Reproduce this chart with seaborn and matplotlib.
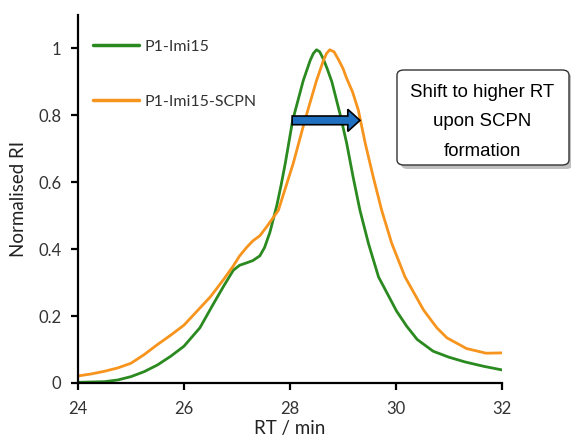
import numpy as np
import pandas as pd
import matplotlib
matplotlib.use("Agg")
import matplotlib.pyplot as plt
import seaborn as sns
from matplotlib.patches import FancyArrow, FancyBboxPatch

# ---- data ----
rt_green = [24.0, 24.5, 24.75, 25.0, 25.25, 25.5, 25.75, 26.0, 26.3, 26.56, 26.75,
            26.93, 27.05, 27.18, 27.3, 27.43, 27.52, 27.62, 27.75, 27.83, 27.91,
            28.05, 28.25, 28.38, 28.44, 28.5, 28.56, 28.63, 28.7, 28.79, 28.87,
            28.95, 29.07, 29.19, 29.32, 29.48, 29.67, 30.01, 30.2, 30.4, 30.7,
            31.0, 31.3, 31.65, 32.0]
ri_green = [0.002, 0.004, 0.009, 0.019, 0.034, 0.054, 0.08, 0.11, 0.165, 0.238, 0.29,
            0.337, 0.352, 0.359, 0.366, 0.38, 0.405, 0.45, 0.53, 0.59, 0.656,
            0.785, 0.904, 0.964, 0.985, 0.996, 0.99, 0.968, 0.94, 0.9, 0.85,
            0.8, 0.716, 0.616, 0.516, 0.417, 0.317, 0.215, 0.17, 0.13, 0.095,
            0.077, 0.063, 0.05, 0.039]

rt_orange = [24.0, 24.25, 24.5, 24.75, 25.0, 25.25, 25.5, 25.75, 26.0, 26.5, 26.75,
             26.93, 27.05, 27.18, 27.3, 27.43, 27.56, 27.78, 28.06, 28.28, 28.5,
             28.63, 28.69, 28.75, 28.83, 28.91, 29.0, 29.07, 29.18, 29.29, 29.42,
             29.57, 29.73, 29.92, 30.17, 30.52, 30.77, 30.96, 31.33, 31.7, 32.0]
ri_orange = [0.021, 0.027, 0.035, 0.045, 0.059, 0.085, 0.115, 0.143, 0.173, 0.258, 0.31,
             0.35, 0.38, 0.405, 0.425, 0.44, 0.467, 0.516, 0.656, 0.785, 0.904,
             0.964, 0.985, 0.996, 0.99, 0.968, 0.94, 0.91, 0.87, 0.815, 0.716,
             0.616, 0.516, 0.417, 0.317, 0.218, 0.165, 0.135, 0.103, 0.089, 0.09]

series_names = ["P1-Imi15", "P1-Imi15-SCPN"]
series_colors = ["#2a8a1f", "#f7941d"]
x_ticks = [24, 26, 28, 30, 32]
y_ticks = [0, 0.2, 0.4, 0.6, 0.8, 1]
y_ticklabels = ["0", "0.2", "0.4", "0.6", "0.8", "1"]
annotation = "Shift to higher RT\nupon SCPN\nformation"

df = pd.concat([
    pd.DataFrame({"RT": rt_green, "RI": ri_green, "Sample": series_names[0]}),
    pd.DataFrame({"RT": rt_orange, "RI": ri_orange, "Sample": series_names[1]}),
], ignore_index=True)

sns.set_style("ticks")
plt.rcParams["font.family"] = ["Lato", "DejaVu Sans"]

fig = plt.figure(figsize=(5.71, 4.38), dpi=100)
ax = fig.add_axes([0.1366, 0.1256, 0.7426, 0.8402])

sns.lineplot(data=df, x="RT", y="RI", hue="Sample", hue_order=series_names,
             palette=series_colors, linewidth=2.0, ax=ax, sort=False, estimator=None)
for ln in ax.get_lines():
    ln.set_solid_joinstyle("round")
    ln.set_solid_capstyle("round")

ax.set_xlim(24, 32)
ax.set_ylim(0, 1.1)
ax.set_xticks(x_ticks)
ax.set_yticks(y_ticks)
ax.set_yticklabels(y_ticklabels)
for s in ["top", "right"]:
    ax.spines[s].set_visible(False)
for s in ["left", "bottom"]:
    ax.spines[s].set_linewidth(1.6)
    ax.spines[s].set_color("black")
ax.tick_params(axis="both", direction="out", length=5, width=1.6, color="black",
               labelsize=12, labelcolor="#333333")
ax.tick_params(axis="x", pad=8)
ax.tick_params(axis="y", pad=7)
ax.set_xlabel("RT / min", fontsize=13.5, color="#222222", labelpad=2)
ax.set_ylabel("Normalised RI", fontsize=13.5, color="#222222", labelpad=8)

leg = ax.legend(loc="upper left", bbox_to_anchor=(0.02, 0.95), frameon=False,
                handlelength=2.9, labelspacing=2.55, fontsize=11.5, handletextpad=0.35,
                borderaxespad=0)
for t in leg.get_texts():
    t.set_color("#333333")
for h in leg.get_lines():
    h.set_linewidth(2.5)

# arrow
arrow = FancyArrow(28.04, 0.785, 1.28, 0, width=0.026, head_width=0.066,
                   head_length=0.23, length_includes_head=True,
                   facecolor="#1f70c1", edgecolor="black", linewidth=1.2, zorder=5)
ax.add_patch(arrow)

# annotation box (figure coords)
bx0, by0, bw, bh = 397 / 571, 1 - 165 / 438, 172 / 571, 95 / 438
shadow = FancyBboxPatch((bx0 + 4 / 571, by0 - 4 / 438), bw, bh,
                        boxstyle="round,pad=0,rounding_size=0.012",
                        transform=fig.transFigure, facecolor="#bfbfbf",
                        edgecolor="none", zorder=1)
box = FancyBboxPatch((bx0, by0), bw, bh,
                     boxstyle="round,pad=0,rounding_size=0.012",
                     transform=fig.transFigure, facecolor="white",
                     edgecolor="#333333", linewidth=1.0, zorder=2)
fig.patches.extend([shadow, box])
fig.text(bx0 + bw / 2 - 1 / 571, 1 - 122 / 438, annotation, ha="center", va="center",
         fontsize=13.4, family=["Liberation Sans", "DejaVu Sans"], color="black",
         linespacing=1.95, zorder=3)

fig.savefig("out.png", dpi=100)
